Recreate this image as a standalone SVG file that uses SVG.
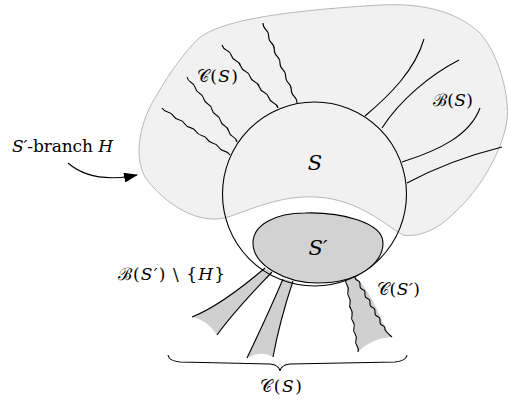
<svg xmlns="http://www.w3.org/2000/svg" width="508" height="403" viewBox="0 0 508 403">
<defs>
<style>
.ln{fill:none;stroke:#000;stroke-width:1.1}
.t{font-family:"DejaVu Serif",serif;font-size:17px;fill:#000}
.i{font-style:italic}
.tent{fill:#d0d0d0;stroke:none}
</style>
<marker id="ah" viewBox="0 0 14 10" refX="13" refY="5" markerWidth="14" markerHeight="10" markerUnits="userSpaceOnUse" orient="auto">
<path d="M0,0 L14,5 L0,10 Z" fill="#000"/>
</marker>
</defs>
<g id="blob">
<path d="M197,40 C220,18 300,10 380,5 C420,3 455,10 480,33 C500,55 510,100 507,120 C503,150 480,190 455,212 C440,228 420,238 403,235 C385,225 360,200 317,197 C280,195 250,210 228,217 C200,226 165,205 145,177 C133,155 140,120 158,93 C170,72 185,52 197,40 Z" fill="#f1f1f1" stroke="#b8b8b8" stroke-width="1"/>
</g>
<g id="tentacles">
<path class="tent" d="M265,268 C245,285 215,308 192,317 Q208,320 217,335 C235,310 255,290 272,272 Z"/>
<path class="tent" d="M283,279 C272,305 258,335 247,358 Q262,350 273,357 C278,330 285,305 293,281 Z"/>
<path class="tent" d="M346,279 L358,352 Q372,338 392,337 C382,328 378,300 355,276 Z"/>
</g>
<g id="connectors">
<path class="ln" d="M265,268 C245,285 215,308 192,317"/>
<path class="ln" d="M272,272 C255,290 235,310 217,335"/>
<path class="ln" d="M283,279 C272,305 258,335 247,358"/>
<path class="ln" d="M293,281 C285,305 278,330 273,357"/>
<path class="ln" d="M346,279 q-1.1,3.2 1,6.08 t1,6.08 t1,6.08 t1,6.08 t1,6.08 t1,6.08 t1,6.08 t1,6.08 t1,6.08 t1,6.08 t1,6.08 t1,6.08"/>
<path class="ln" d="M355,276 q-0.3,3.5 2.5,4.5 t2.5,4.5 t2.5,4.5 t2.5,4.5 t2.5,4.5 t2.5,4.5 t2.5,4.5 t2.5,4.5 t2.5,4.5 t2.5,4.5 t2.5,4.5 t2.5,4.5 q3,4 7,7"/>
<path class="ln" d="M162,108 q1.9,3.1 5.67,3.92 t5.67,3.92 t5.67,3.92 t5.67,3.92 t5.67,3.92 t5.67,3.92 t5.67,3.92 t5.67,3.92 t5.67,3.92 t5.67,3.92 t5.67,3.92 t5.67,3.92"/>
<path class="ln" d="M187,77 q0.8,3.6 4.17,5.42 t4.17,5.42 t4.17,5.42 t4.17,5.42 t4.17,5.42 t4.17,5.42 t4.17,5.42 t4.17,5.42 t4.17,5.42 t4.17,5.42 t4.17,5.42 t4.17,5.42"/>
<path class="ln" d="M222,45 q1.1,3.6 4.67,5.25 t4.67,5.25 t4.67,5.25 t4.67,5.25 t4.67,5.25 t4.67,5.25 t4.67,5.25 t4.67,5.25 t4.67,5.25 t4.67,5.25 t4.67,5.25 t4.67,5.25"/>
<path class="ln" d="M263,23 q-0.1,3.95 2.83,6.67 t2.83,6.67 t2.83,6.67 t2.83,6.67 t2.83,6.67 t2.83,6.67 t2.83,6.67 t2.83,6.67 t2.83,6.67 t2.83,6.67 t2.83,6.67 t2.83,6.67"/>
<path class="ln" d="M365,116 C390,95 415,70 424,39"/>
<path class="ln" d="M382,128 C400,100 430,75 459,60"/>
<path class="ln" d="M402,162 C440,150 470,135 480,108"/>
<path class="ln" d="M407,183 C435,168 470,155 502,147"/>
<path class="ln" d="M168,355 q1,6 12,7 L270,364 q9,1 10,7 q1,-6 10,-7 L395,362 q11,-1 12,-7"/>
<path class="ln" d="M68,163 Q92,184 137,175" marker-end="url(#ah)"/>
</g>
<g id="S">
<circle cx="314.5" cy="194" r="92" fill="none" stroke="#000" stroke-width="1.1"/>
<text class="t i" x="315" y="170" text-anchor="middle" style="font-size:21px">S</text>
</g>
<g id="Sprime">
<path d="M253,243 C253,225 275,213 305,213 C340,212 383,222 383,243 C383,262 360,283 318,283 C285,283 253,265 253,243 Z" fill="#d2d2d2" stroke="#000" stroke-width="1.1"/>
<text class="t i" x="318" y="255" text-anchor="middle" style="font-size:21px">S′</text>
</g>
<g id="labels">
<text class="t" x="197" y="81.5" textLength="41"><tspan>𝒞</tspan>(<tspan class="i">S</tspan>)</text>
<text class="t" x="433" y="105.5" textLength="40"><tspan>ℬ</tspan>(<tspan class="i">S</tspan>)</text>
<text class="t" x="12" y="152" textLength="101"><tspan class="i">S′</tspan>-branch <tspan class="i">H</tspan></text>
<text class="t" x="118" y="279.5" textLength="107"><tspan>ℬ</tspan>(<tspan class="i">S′</tspan>) \ {<tspan class="i">H</tspan>}</text>
<text class="t" x="377" y="295" textLength="43"><tspan>𝒞</tspan>(<tspan class="i">S′</tspan>)</text>
<text class="t" x="260" y="391.5" textLength="42"><tspan>𝒞</tspan>(<tspan class="i">S</tspan>)</text>
</g>
</svg>
